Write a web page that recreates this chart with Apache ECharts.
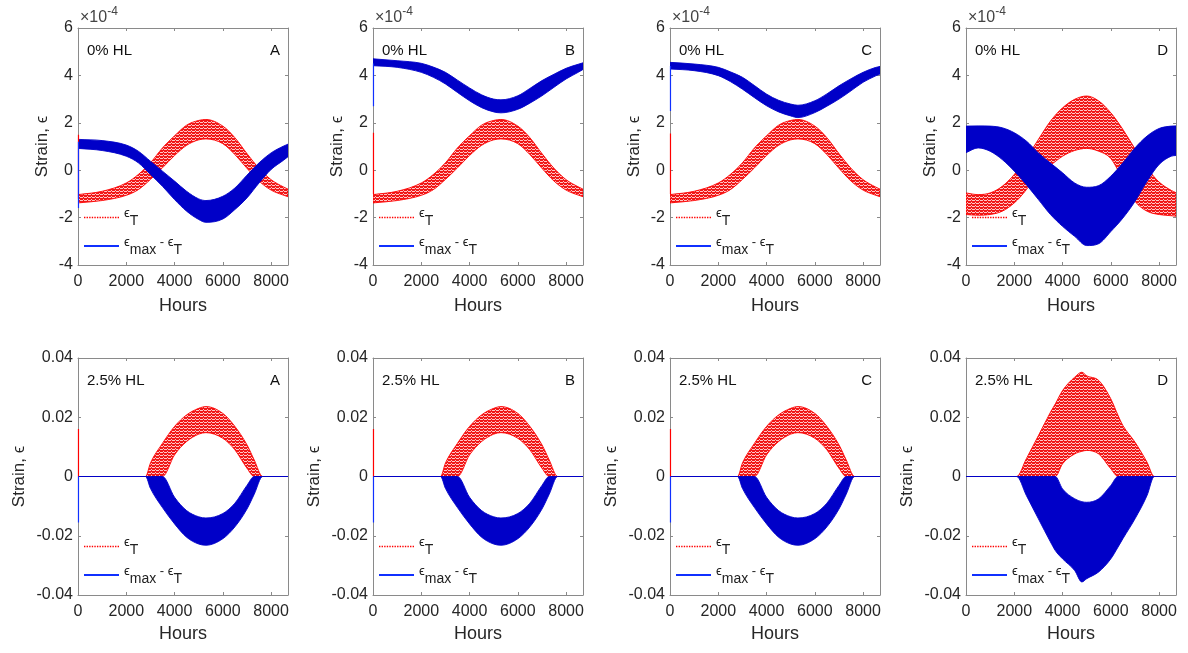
<!DOCTYPE html>
<html><head><meta charset="utf-8">
<script src="https://cdn.jsdelivr.net/npm/echarts@6/dist/echarts.min.js"></script>
<style>html,body{margin:0;padding:0;background:#fff}#c{width:1188px;height:653px}</style>
</head><body><div id="c"></div>
<script>
// ---------------- DATA ----------------
// Top row (0% HL), strain values in units of 1e-4
const hoursTop = [0,1000,2000,2500,3000,3500,4000,4500,5000,5300,6000,6500,7000,7500,8000,8500,8700];
const redTopABC_hi = [-1.03,-0.89,-0.54,-0.18,0.31,0.94,1.45,1.90,2.10,2.14,1.86,1.37,0.70,0.08,-0.40,-0.70,-0.80];
const redTopABC_lo = [-1.38,-1.28,-1.06,-0.82,-0.39,0.10,0.62,1.05,1.28,1.32,1.12,0.66,0.08,-0.46,-0.84,-1.05,-1.12];
const blueTopA_hi = [1.30,1.25,1.06,0.80,0.38,-0.04,-0.46,-0.89,-1.21,-1.28,-1.10,-0.75,-0.21,0.31,0.73,1.01,1.10];
const blueTopA_lo = [0.92,0.83,0.59,0.31,-0.18,-0.68,-1.24,-1.73,-2.08,-2.20,-2.06,-1.66,-1.17,-0.54,0.03,0.41,0.57];
const blueTopB_hi = [4.70,4.62,4.51,4.35,4.13,3.80,3.47,3.18,3.00,2.97,3.14,3.45,3.78,4.05,4.30,4.47,4.53];
const blueTopB_lo = [4.41,4.34,4.13,3.92,3.64,3.28,2.93,2.64,2.46,2.42,2.57,2.83,3.14,3.50,3.85,4.13,4.25];
const blueTopC_hi = [4.55,4.48,4.34,4.15,3.92,3.57,3.21,2.95,2.79,2.74,2.93,3.22,3.56,3.86,4.13,4.33,4.38];
const blueTopC_lo = [4.27,4.20,3.99,3.74,3.42,3.06,2.72,2.46,2.29,2.22,2.43,2.70,3.00,3.35,3.71,3.97,4.06];
const hoursTopD = [0,500,1000,1500,2000,2500,3000,3500,4000,4500,5000,5500,6000,6500,7000,7500,8000,8500,8700];
const blueTopD_hi = [1.86,1.87,1.86,1.79,1.58,1.23,0.73,0.30,-0.11,-0.54,-0.72,-0.65,-0.25,0.31,0.94,1.44,1.76,1.86,1.87];
const blueTopD_lo = [0.74,0.94,0.80,0.45,-0.04,-0.61,-1.24,-1.87,-2.37,-2.79,-3.18,-3.10,-2.59,-2.02,-1.32,-0.47,0.24,0.59,0.62];
const redTopD_hi = [-0.96,-1.03,-0.96,-0.68,-0.18,0.52,1.30,2.07,2.63,2.99,3.13,2.92,2.42,1.72,0.90,0.10,-0.50,-0.85,-0.95];
const redTopD_lo = [-1.87,-1.90,-1.87,-1.73,-1.38,-0.82,-0.04,0.22,0.59,0.83,0.92,0.80,0.49,-0.40,-1.31,-1.73,-1.87,-1.92,-1.94];
// initial transients at hour ~0 [from, to]
const spikeTopA_red = [-1.2, 1.5],  spikeTopA_blue = [-1.6, 1.2];
const spikeTopB_red = [-1.0, 1.58], spikeTopB_blue = [2.7, 4.5];
const spikeTopC_red = [-1.0, 1.55], spikeTopC_blue = [2.5, 4.4];

// Bottom row (2.5% HL), strain values
const hoursBot = [0,2800,3000,3500,4000,4500,5000,5300,6000,6500,7000,7300,7650,8700];
const redBotABC_hi = [0,0,0.0045,0.0112,0.0169,0.0208,0.0230,0.0236,0.0213,0.0169,0.0107,0.0056,0,0];
const redBotABC_lo = [0,0,0,0,0.0073,0.0118,0.0143,0.0148,0.0129,0.0090,0.0028,0,0,0];
const blueBotABC_hi = [0,0,0,0,-0.0070,-0.0115,-0.0136,-0.0140,-0.0125,-0.0090,-0.0030,0,0,0];
const blueBotABC_lo = [0,0,-0.0040,-0.0105,-0.0160,-0.0205,-0.0228,-0.0232,-0.0210,-0.0170,-0.0110,-0.0060,0,0];
const hoursBotD = [0,2100,2500,3000,3500,3700,4000,4500,4800,5000,5500,6000,6300,6500,7000,7500,7800,8700];
const redBotD_hi = [0,0,0.0060,0.0138,0.0217,0.0245,0.0290,0.0335,0.0352,0.0340,0.0324,0.0262,0.0206,0.0172,0.0116,0.0048,0,0];
const redBotD_lo = [0,0,0,0,0,0,0.0043,0.0076,0.0085,0.0088,0.0076,0.0026,0,0,0,0,0,0];
const blueBotD_hi = [0,0,0,0,0,0,-0.0042,-0.0075,-0.0085,-0.0087,-0.0075,-0.0030,0,0,0,0,0,0];
const blueBotD_lo = [0,0,-0.0064,-0.0143,-0.0221,-0.0250,-0.0278,-0.0317,-0.0356,-0.0345,-0.0322,-0.0278,-0.0238,-0.0210,-0.0143,-0.0064,0,0];
const spikeBot_red = [0, 0.016], spikeBot_blue = [-0.0155, 0];

// Axes / labels
const xRange = [0, 8700, 2000];
const yRangeTop = [-4, 6, 2];
const yRangeBot = [-0.04, 0.04, 0.02];
const panelTags = ['A','B','C','D'];
const rowLabels = ['0% HL', '2.5% HL'];

// ---------------- LAYOUT ----------------
const FONT = "'Liberation Sans', Arial, 'DejaVu Sans', sans-serif";
const AXC = '#8a8a8a', TXT = '#262626';
const RED = '#ff0000', BLUE = '#0000c8';
const gridLefts = [78, 373, 670, 966], gridTops = [28, 358], GW = 210, GH = 237;

// red dotted texture
const pc = document.createElement('canvas'); pc.width = 4; pc.height = 3;
const g = pc.getContext('2d');
g.fillStyle = '#f01818'; g.fillRect(0,0,4,3);
g.fillStyle = '#ffc4c4'; g.fillRect(0,2,3,1); g.fillRect(3,1,1,1);
const redFill = {image: pc, repeat: 'repeat'};

const panels = [
  {hours: hoursTop, red: [redTopABC_lo, redTopABC_hi], blue: [blueTopA_lo, blueTopA_hi], sr: spikeTopA_red, sb: spikeTopA_blue},
  {hours: hoursTop, red: [redTopABC_lo, redTopABC_hi], blue: [blueTopB_lo, blueTopB_hi], sr: spikeTopB_red, sb: spikeTopB_blue},
  {hours: hoursTop, red: [redTopABC_lo, redTopABC_hi], blue: [blueTopC_lo, blueTopC_hi], sr: spikeTopC_red, sb: spikeTopC_blue},
  {hours: hoursTopD, red: [redTopD_lo, redTopD_hi], blue: [blueTopD_lo, blueTopD_hi]},
  {hours: hoursBot, red: [redBotABC_lo, redBotABC_hi], blue: [blueBotABC_lo, blueBotABC_hi], sr: spikeBot_red, sb: spikeBot_blue},
  {hours: hoursBot, red: [redBotABC_lo, redBotABC_hi], blue: [blueBotABC_lo, blueBotABC_hi], sr: spikeBot_red, sb: spikeBot_blue},
  {hours: hoursBot, red: [redBotABC_lo, redBotABC_hi], blue: [blueBotABC_lo, blueBotABC_hi], sr: spikeBot_red, sb: spikeBot_blue},
  {hours: hoursBotD, red: [redBotD_lo, redBotD_hi], blue: [blueBotD_lo, blueBotD_hi]}
];

const dotted = 'path://' + Array.from({length: 14}, (_, k) => 'M' + (k*3) + ',0h1.6v1.6h-1.6z').join(' ');
const solid = 'path://M0,0h40v2.2h-40z';

const option = {animation: false, grid: [], xAxis: [], yAxis: [], series: [], legend: [], title: []};

// monotone (Fritsch-Carlson) tangents for a pixel polyline with increasing x
function tangents(P) {
  const n = P.length, d = [], m = new Array(n);
  for (let k = 0; k < n - 1; k++) d.push((P[k+1][1] - P[k][1]) / (P[k+1][0] - P[k][0]));
  m[0] = d[0]; m[n-1] = d[n-2];
  for (let k = 1; k < n - 1; k++) m[k] = (d[k-1] * d[k] <= 0) ? 0 : (d[k-1] + d[k]) / 2;
  for (let k = 0; k < n - 1; k++) {
    if (d[k] === 0) { m[k] = 0; m[k+1] = 0; continue; }
    const a = m[k] / d[k], b = m[k+1] / d[k], s = a*a + b*b;
    if (s > 9) { const t = 3 / Math.sqrt(s); m[k] = t*a*d[k]; m[k+1] = t*b*d[k]; }
  }
  return m;
}
function makeBandRender(fill, stroke) {
  return function (params, api) {
    if (params.dataIndexInside !== 0) return null;
    const n = params.dataInsideLength;
    const up = [], dn = [];
    for (let k = 0; k < n; k++) {
      const x = api.value(0, k);
      up.push(api.coord([x, api.value(2, k)]));
      dn.push(api.coord([x, api.value(1, k)]));
    }
    const mu = tangents(up), md = tangents(dn);
    let s = 'M' + up[0][0] + ',' + up[0][1];
    for (let k = 0; k < n - 1; k++) {
      const [x0, y0] = up[k], [x1, y1] = up[k+1], dx = x1 - x0;
      s += ' C' + (x0 + dx/3) + ',' + (y0 + mu[k]*dx/3) + ' ' + (x1 - dx/3) + ',' + (y1 - mu[k+1]*dx/3) + ' ' + x1 + ',' + y1;
    }
    s += ' L' + dn[n-1][0] + ',' + dn[n-1][1];
    for (let k = n - 1; k > 0; k--) {
      const [x1, y1] = dn[k], [x0, y0] = dn[k-1], dx = x1 - x0;
      s += ' C' + (x1 - dx/3) + ',' + (y1 - md[k]*dx/3) + ' ' + (x0 + dx/3) + ',' + (y0 + md[k-1]*dx/3) + ' ' + x0 + ',' + y0;
    }
    s += ' Z';
    const cs = params.coordSys;
    return {
      type: 'path',
      shape: {pathData: s},
      style: {fill: fill, stroke: stroke, lineWidth: 0.9},
      clipPath: {type: 'rect', shape: {x: cs.x, y: cs.y, width: cs.width, height: cs.height}}
    };
  };
}
function band(name, hours, lo, hi, gi, color, fill, z) {
  option.series.push({type: 'custom', name: name, xAxisIndex: 2*gi, yAxisIndex: 2*gi, z: z, silent: true,
    color: color, renderItem: makeBandRender(fill, color),
    encode: {x: 0, y: [1, 2]},
    data: hours.map((h, k) => [h, lo[k], hi[k]])});
}
function spike(vals, gi, color, z) {
  if (!vals) return;
  option.series.push({type: 'line', xAxisIndex: 2*gi, yAxisIndex: 2*gi, symbol: 'none', silent: true, z: z,
    data: [[20, vals[0]], [20, vals[1]]], lineStyle: {color: color, width: 1.2}});
}

panels.forEach((p, i) => {
  const row = Math.floor(i / 4), col = i % 4;
  const gl = gridLefts[col], gt = gridTops[row];
  const yr = row === 0 ? yRangeTop : yRangeBot;
  option.grid.push({left: gl, top: gt, width: GW, height: GH});
  const line = {show: true, onZero: false, lineStyle: {color: AXC, width: 1}};
  const tick = {show: true, inside: true, length: 3, lineStyle: {color: AXC}};
  option.xAxis.push({gridIndex: i, type: 'value', min: xRange[0], max: xRange[1], interval: xRange[2],
    position: 'bottom', axisLine: line, axisTick: tick, splitLine: {show: false},
    axisLabel: {fontSize: 16, color: TXT, margin: 9, fontFamily: FONT, showMaxLabel: false, formatter: v => String(v)},
    name: 'Hours', nameLocation: 'middle', nameGap: row === 0 ? 32 : 30,
    nameTextStyle: {fontSize: 18, color: TXT, fontFamily: FONT}});
  option.xAxis.push({gridIndex: i, type: 'value', min: xRange[0], max: xRange[1], interval: xRange[2],
    position: 'top', axisLine: line, axisTick: tick, splitLine: {show: false}, axisLabel: {show: false}});
  option.yAxis.push({gridIndex: i, type: 'value', min: yr[0], max: yr[1], interval: yr[2],
    position: 'left', axisLine: line, axisTick: tick, splitLine: {show: false},
    axisLabel: {fontSize: 16, color: TXT, margin: 5, fontFamily: FONT},
    name: 'Strain, \u03f5', nameLocation: 'middle', nameGap: row === 0 ? 27 : 50,
    nameTextStyle: {fontSize: 17, color: TXT, fontFamily: FONT}});
  option.yAxis.push({gridIndex: i, type: 'value', min: yr[0], max: yr[1], interval: yr[2],
    position: 'right', axisLine: line, axisTick: tick, splitLine: {show: false}, axisLabel: {show: false}});

  band('red' + i, p.hours, p.red[0], p.red[1], i, RED, redFill, 2);
  band('blue' + i, p.hours, p.blue[0], p.blue[1], i, BLUE, BLUE, 3);
  spike(p.sr, i, RED, 4);
  spike(p.sb, i, '#1030ff', 4);

  option.title.push({text: rowLabels[row], left: gl + 9, top: gt + 15, padding: 0,
    textStyle: {fontSize: 15, fontWeight: 'normal', color: '#111', fontFamily: FONT}});
  option.title.push({text: panelTags[col], right: 1188 - (gl + GW - 8), top: gt + 15, padding: 0,
    textStyle: {fontSize: 15, fontWeight: 'normal', color: '#111', fontFamily: FONT}});
  if (row === 0) {
    option.title.push({text: '{a|\u00d710}{b|-4}', left: gl + 2, top: gt - 24, padding: 0,
      textStyle: {fontWeight: 'normal', rich: {
        a: {fontSize: 16, fontWeight: 'normal', color: '#444', fontFamily: FONT, padding: [6, 0, 0, 0]},
        b: {fontSize: 12, fontWeight: 'normal', color: '#444', fontFamily: FONT, padding: [0, 0, 6, 0]}}}});
  }
  option.legend.push({orient: 'vertical', left: gl + 6, top: gt + (row === 0 ? 179 : 178),
    itemWidth: 35, itemHeight: 14, itemGap: 7, selectedMode: false, padding: 0,
    data: [{name: 'red' + i, icon: dotted, itemStyle: {color: RED}},
           {name: 'blue' + i, icon: solid, itemStyle: {color: '#1030ff'}}],
    formatter: n => n.indexOf('red') === 0 ? '{e|\u03f5}{s|T}' : '{e|\u03f5}{s|max}{e| - \u03f5}{s|T}',
    textStyle: {color: '#222', rich: {
      e: {fontSize: 13, color: '#222', fontFamily: FONT, padding: [0, 0, 8, 0]},
      s: {fontSize: 14, color: '#222', fontFamily: FONT, padding: [8, 0, 0, 0]}}}});
});

const chart = echarts.init(document.getElementById('c'), null, {renderer: 'canvas'});
chart.setOption(option);
</script></body></html>
